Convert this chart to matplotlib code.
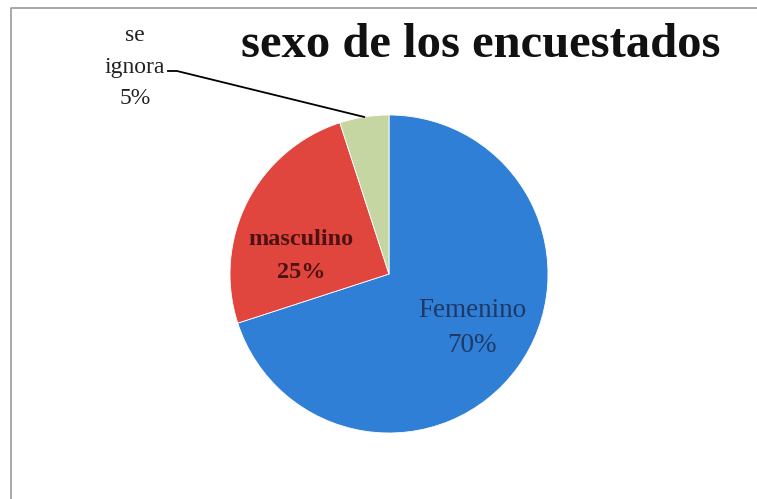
import matplotlib.pyplot as plt
import numpy as np

# data
categorias = ['Femenino', 'masculino', 'se ignora']
porcentajes = [70, 25, 5]
colores = ['#2f7fd6', '#e0453e', '#c5d6a3']
titulo = 'sexo de los encuestados'

W, H = 757, 499
fig = plt.figure(figsize=(W / 100, H / 100), dpi=100)
ax = fig.add_axes([0, 0, 1, 1])

# pie centre / radius in pixel coords (y up)
cx, cy, R = 389, H - 274, 159
wedges, _ = ax.pie(porcentajes, colors=colores, startangle=90, counterclock=False,
                   center=(cx, cy), radius=R,
                   wedgeprops=dict(edgecolor='white', linewidth=0.6))
ax.set_xlim(0, W)
ax.set_ylim(0, H)
ax.set_aspect('equal')
ax.axis('off')

serif = ['Liberation Serif', 'DejaVu Serif']

# labels
ax.text(472, H - 328, f'{categorias[0]}\n{porcentajes[0]}%', ha='center', va='center',
        fontsize=19.5, color='#1f3866', family=serif, linespacing=1.5)
ax.text(301, H - 256, f'{categorias[1]}\n{porcentajes[1]}%', ha='center', va='center',
        fontsize=17.5, fontweight='bold', color='#4e1212', family=serif, linespacing=1.7)
ax.text(135, H - 67, 'se\nignora\n' + str(porcentajes[2]) + '%', ha='center', va='center',
        fontsize=17, color='#222222', family=serif, linespacing=1.65)

# leader line to the small slice
w = wedges[2]
ang = np.deg2rad((w.theta1 + w.theta2) / 2)
ex, ey = cx + R * np.cos(ang), cy + R * np.sin(ang)
ax.plot([168, 177, ex], [H - 71, H - 71, ey], color='black', lw=1.3)

ax.text(481, H - 45, titulo, ha='center', va='center', fontsize=35,
        fontweight='bold', family=serif, color='#111111')

# frame (top and left edges of the scanned chart area)
ax.plot([11, 11, W], [0, H - 8, H - 8], color='#9a9a9a', lw=1.2)

fig.savefig('out.png', dpi=100)
